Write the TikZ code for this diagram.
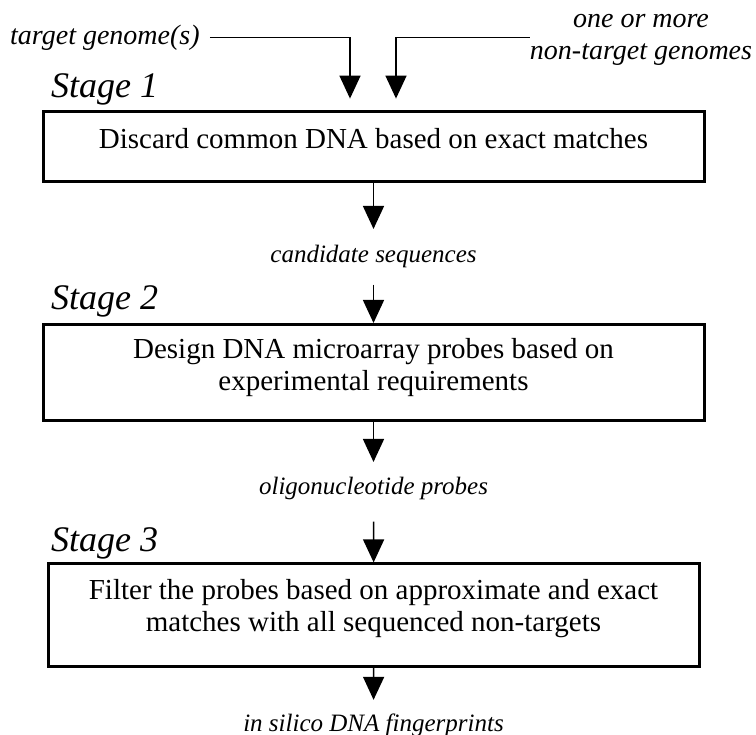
\documentclass[tikz,border=0pt]{standalone}
\usepackage{fontspec}
\setmainfont{Liberation Serif}
\usetikzlibrary{arrows.meta}

\begin{document}
\begin{tikzpicture}[line join=miter,>={Triangle[length=23pt,width=21pt]},x=1pt,y=-1pt,
	stagebox/.style={draw,line width=3pt,minimum width=661pt,inner sep=0pt},
	boxtext/.style={align=center,font=\fontsize{29}{32}\selectfont,inner sep=0pt},
	flowlbl/.style={font=\fontsize{25}{30}\selectfont\itshape,inner sep=0pt},
	inputlbl/.style={font=\fontsize{28}{31.6}\selectfont\itshape,inner sep=0pt,align=center},
	stagelbl/.style={font=\fontsize{36}{40}\selectfont\itshape,inner sep=0pt,anchor=base west},
	flow/.style={line width=1.5pt,->}]
	\useasboundingbox (0,0) rectangle (756,735);

	% inputs
	\node[inputlbl,anchor=west] (tg) at (10,37.5) {target genome(s)};
	\node[inputlbl] (ntg) at (641,39.8) {one or more\\non-target genomes};

	% stages
	\node[stagelbl] (s1) at (51,97.6) {Stage 1};
	\node[stagebox,minimum height=70pt] (b1) at (373.5,146.5) {};
	\node[boxtext] (t1) at (373.5,138.5) {Discard common DNA based on exact matches};

	\node[flowlbl] (cand) at (373.5,256) {candidate sequences};

	\node[stagelbl] (s2) at (51,309.6) {Stage 2};
	\node[stagebox,minimum height=96.5pt] (b2) at (373.5,372.75) {};
	\node[boxtext] (t2) at (373.5,368) {Design DNA microarray probes based on\\experimental requirements};

	\node[flowlbl] (oligo) at (373.5,488) {oligonucleotide probes};

	\node[stagelbl] (s3) at (51,551.6) {Stage 3};
	\node[stagebox,minimum width=650.5pt,minimum height=102.6pt] (b3) at (373.75,615.2) {};
	\node[boxtext] (t3) at (373.5,608.6) {Filter the probes based on approximate and exact\\matches with all sequenced non-targets};

	\node[flowlbl] (finger) at (373.5,725) {in silico DNA fingerprints};

	% connectors
	\draw[flow,shorten <=10pt,shorten >=11.4pt] (tg.east) -| ([xshift=-23.5pt]b1.north);
	\draw[flow,shorten >=11.4pt] ([yshift=2.5pt]ntg.west) -| ([xshift=22.5pt]b1.north);
	\draw[flow,shorten >=15.5pt] (b1) -- (cand);
	\draw[flow,shorten <=17pt] (cand) -- (b2);
	\draw[flow,shorten >=14.5pt] (b2) -- (oligo);
	\draw[flow,shorten <=22pt] (oligo) -- (b3);
	\draw[flow,shorten >=13.5pt] (b3) -- (finger);
\end{tikzpicture}
\end{document}
